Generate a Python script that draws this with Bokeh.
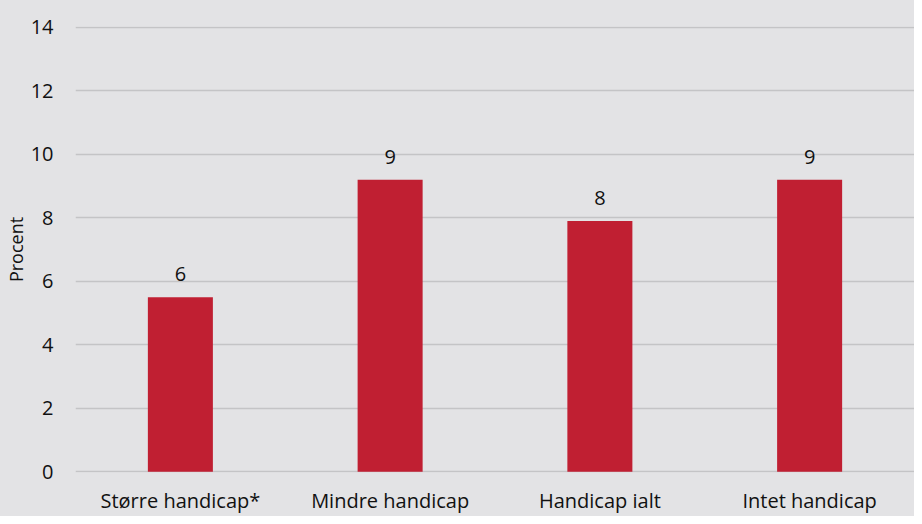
from bokeh.plotting import figure
from bokeh.models import ColumnDataSource, LabelSet, FixedTicker, Range1d
from bokeh.core.properties import value
from bokeh.embed import file_html
from bokeh.resources import INLINE

categories = ["Større handicap*", "Mindre handicap", "Handicap ialt", "Intet handicap"]
values = [5.5, 9.2, 7.9, 9.2]
labels = ["6", "9", "8", "9"]
y_ticks = [0, 2, 4, 6, 8, 10, 12, 14]

BG = "#e3e3e5"
FONT = "Open Sans"

src = ColumnDataSource(dict(cat=categories, val=values, lab=labels))

p = figure(x_range=categories, y_range=Range1d(-0.02, 14.03), width=914, height=516,
           output_backend="svg", toolbar_location=None,
           background_fill_color=BG, border_fill_color=BG,
           min_border_left=10, min_border_right=0, min_border_top=26, min_border_bottom=44)
p.styles = {"background-color": BG}
p.outline_line_color = None

p.vbar(x="cat", top="val", width=0.31, source=src, fill_color="#c01f32", line_color=None)

p.add_layout(LabelSet(x="cat", y="val", text="lab", source=src, text_align="center",
                      text_baseline="alphabetic", y_offset=16, text_font=value(FONT),
                      text_font_size="20px", text_color="#111111"))

p.yaxis.ticker = FixedTicker(ticks=y_ticks)
p.yaxis.axis_label = "Procent"
p.yaxis.axis_label_text_font = FONT
p.yaxis.axis_label_text_font_style = "normal"
p.yaxis.axis_label_text_font_size = "18px"
p.yaxis.axis_label_text_color = "#111111"
p.yaxis.axis_label_standoff = 0
for ax in (p.xaxis, p.yaxis):
    ax.axis_line_color = None
    ax.major_tick_line_color = None
    ax.minor_tick_line_color = None
    ax.major_tick_out = 0
    ax.major_tick_in = 0
    ax.minor_tick_out = 0
    ax.minor_tick_in = 0
    ax.major_label_text_font = FONT
    ax.major_label_text_font_size = "20px"
    ax.major_label_text_color = "#111111"
p.yaxis.major_label_standoff = 22
p.xaxis.major_label_standoff = 14

p.xgrid.grid_line_color = None
p.ygrid.grid_line_color = "#c4c4c6"
p.ygrid.grid_line_width = 1.5

open("out.html", "w").write(file_html(p, INLINE))
